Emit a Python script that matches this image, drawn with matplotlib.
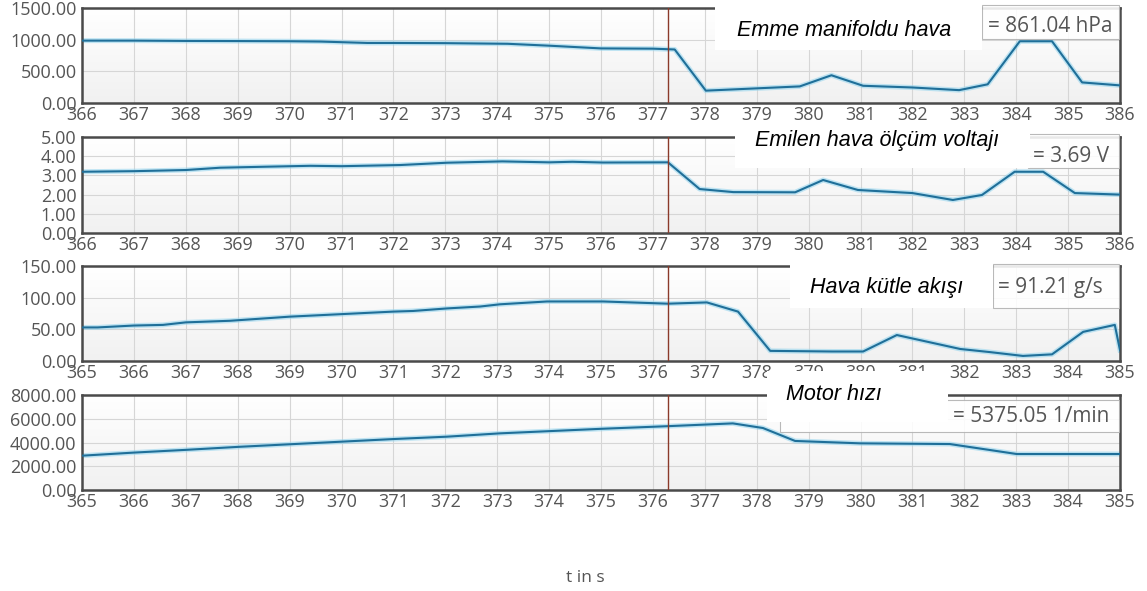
import numpy as np
import matplotlib
matplotlib.use("Agg")
import matplotlib.pyplot as plt
from matplotlib.patches import Rectangle
from matplotlib.colors import LinearSegmentedColormap

# ---------------- data ----------------
t1 = [366, 367, 368, 369, 370, 370.6, 371.5, 372, 373, 374.2, 375, 376, 377, 377.42,
      378.02, 379.83, 380.44, 381.05, 382, 382.9, 383.45, 384.07, 384.69, 385.27, 386]
p1 = [985, 985, 980, 978, 975, 970, 948, 948, 945, 935, 905, 862, 858, 845,
      195, 262, 438, 272, 245, 203, 295, 975, 975, 325, 278]

t2 = [366, 367, 368, 368.66, 369.5, 370.4, 371, 372.13, 373.03, 374.1, 375.0, 375.45,
      376.04, 377.29, 377.9, 378.55, 379.74, 380.28, 380.95, 382.0, 382.78, 383.34,
      383.97, 384.52, 385.13, 386]
p2 = [3.19, 3.22, 3.28, 3.40, 3.45, 3.50, 3.48, 3.54, 3.66, 3.73, 3.68, 3.71,
      3.67, 3.68, 2.29, 2.13, 2.12, 2.76, 2.24, 2.08, 1.72, 1.98,
      3.19, 3.19, 2.08, 2.0]

t3 = [365, 365.3, 366, 366.56, 367, 367.85, 369, 370, 371, 371.38, 372.03, 372.67,
      373.05, 373.96, 375.04, 376.29, 377.04, 377.64, 378.26, 379.45, 380.05, 380.7,
      381.92, 382.5, 383.13, 383.69, 384.29, 384.9, 385]
p3 = [53, 53, 56, 57, 61, 63.5, 70, 74, 78, 79, 83, 86,
      89.5, 94, 94, 90.5, 92.5, 78, 16, 15, 15, 41,
      19, 14, 8, 10.5, 46, 57, 17]

t4 = [365, 366, 367, 368, 369, 370, 371, 372.03, 373.05, 375.04, 376.29, 377.54,
      378.12, 378.74, 379.99, 381.72, 382.49, 383.01, 385]
p4 = [2890, 3150, 3380, 3630, 3850, 4070, 4290, 4490, 4770, 5160, 5375, 5610,
      5220, 4130, 3930, 3870, 3370, 3030, 3030]

xranges = [(366, 386), (366, 386), (365, 385), (365, 385)]
ymaxes = [1500, 5, 150, 8000]
ysteps = [500, 1, 50, 2000]
cursors = [377.29, 377.29, 376.29, 376.29]

titles = ["Emme manifoldu hava", "Emilen hava ölçüm voltajı", "Hava kütle akışı", "Motor hızı"]
readouts = ["= 861.04 hPa", "= 3.69 V", "= 91.21 g/s", "= 5375.05 1/min"]
hidden_name = "Motordrehzahl"
xlabel = "t in s"

series = [(t1, p1), (t2, p2), (t3, p3), (t4, p4)]

# ---------------- layout ----------------
W, H = 1147, 591
fig = plt.figure(figsize=(W / 100, H / 100), dpi=100)
plt.rcParams['font.family'] = ['Open Sans', 'DejaVu Sans']

panels_px = [(82, 8, 1120, 103), (82, 137, 1120, 233), (82, 266, 1120, 361), (82, 395, 1120, 490)]

cmap = LinearSegmentedColormap.from_list("bg", ["#ffffff", "#f1f1f1"])
grad = np.linspace(0, 1, 100).reshape(-1, 1)

axes = []
for i, (l, t, r, b) in enumerate(panels_px):
    ax = fig.add_axes([l / W, 1 - b / H, (r - l) / W, (b - t) / H])
    axes.append(ax)
    ax.imshow(grad, cmap=cmap, aspect='auto', extent=[0, 1, 0, 1],
              transform=ax.transAxes, zorder=-2, interpolation='bilinear')
    x, y = series[i]
    ax.plot(x, y, color="#8fd3ee", lw=3.6, alpha=0.55, zorder=2, solid_joinstyle='round')
    ax.plot(x, y, color="#1f6f99", lw=1.5, zorder=3, solid_joinstyle='round')
    ax.axvline(cursors[i], color="#8b3a2a", lw=1.0, zorder=4)
    x0, x1 = xranges[i]
    ax.set_xlim(x0, x1)
    ax.set_ylim(0, ymaxes[i])
    ax.set_xticks(np.arange(x0, x1 + 1, 1))
    ax.set_yticks(np.arange(0, ymaxes[i] + ysteps[i] / 2, ysteps[i]))
    ax.yaxis.set_major_formatter(matplotlib.ticker.FormatStrFormatter('%.2f'))
    ax.grid(True, color="#d6d6d6", lw=0.8, zorder=-1)
    ax.set_axisbelow(True)
    ax.tick_params(axis='x', length=0, pad=2, labelsize=13, labelcolor="#555555")
    ax.tick_params(axis='y', length=0, pad=4, labelsize=13, labelcolor="#555555")
    for s in ax.spines.values():
        s.set_color("#4a4a4a")
        s.set_linewidth(1.8)


def px(x, y):
    return (x / W, 1 - y / H)


def rect(x0, y0, x1, y1, fc="white", ec="none", lw=0.8, z=10, alpha=1.0):
    xy = px(x0, y1)
    fig.add_artist(Rectangle(xy, (x1 - x0) / W, (y1 - y0) / H, transform=fig.transFigure,
                             facecolor=fc, edgecolor=ec, lw=lw, zorder=z, alpha=alpha))


def ftext(x, y, s, z=12, **kw):
    fig.text(*px(x, y), s, zorder=z, **kw)


# readout boxes
ro_boxes = [(982, 5, 1119, 39), (1028, 134, 1119, 168), (993, 264, 1119, 308), (780, 400, 1119, 432)]
ro_text = [(988, 26), (1033, 156), (998, 288), (953, 416)]
for (bx0, by0, bx1, by1), (tx, ty), s in zip(ro_boxes, ro_text, readouts):
    rect(bx0, by0, bx1, by1, fc="white", ec="#b0b0b0", lw=0.8, z=10, alpha=0.88)
    ftext(tx, ty, s, z=11, fontsize=15, color="#555555", ha='left', va='center')

# partially hidden original series name (panel 4)
ftext(805, 416, hidden_name, z=11, fontsize=13.5, color="#777777", ha='left', va='center')

# white overlay boxes with italic labels
ov_boxes = [(715, 0, 982, 50), (735, 124, 1030, 168), (790, 263, 993, 308), (767, 371, 948, 422)]
ov_text = [(737, 31), (755, 141), (810, 288), (786, 395)]
for (bx0, by0, bx1, by1), (tx, ty), s in zip(ov_boxes, ov_text, titles):
    rect(bx0, by0, bx1, by1, fc="white", ec="none", z=13)
    fig.text(*px(tx, ty), s, zorder=14, fontsize=15.5, color="black", ha='left', va='center',
             style='italic', family=['Liberation Sans', 'DejaVu Sans'])

ftext(585, 578, xlabel, fontsize=12.5, color="#555555", ha='center', va='center')

fig.savefig("out.png", dpi=100)
